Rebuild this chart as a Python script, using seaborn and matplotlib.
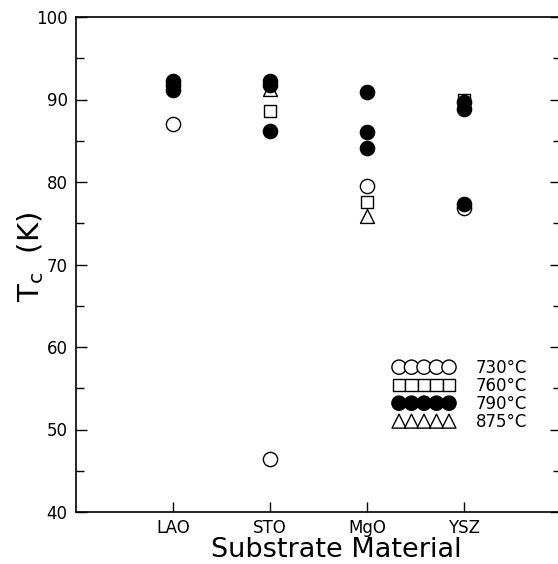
import numpy as np
import pandas as pd
import matplotlib
matplotlib.use("Agg")
import matplotlib.pyplot as plt
import seaborn as sns

# ---------------------------
# data
# ---------------------------
substrates = ["LAO", "STO", "MgO", "YSZ"]

# 730C - open circles
t730_sub = ["LAO", "STO", "MgO", "YSZ"]
t730_tc = [87.0, 46.4, 79.5, 76.8]

# 760C - open squares
t760_sub = ["LAO", "STO", "MgO", "YSZ"]
t760_tc = [91.8, 88.6, 77.6, 90.0]

# 790C - filled circles
t790_sub = ["LAO", "LAO", "LAO", "STO", "STO", "STO", "MgO", "MgO", "MgO", "YSZ", "YSZ", "YSZ"]
t790_tc = [92.2, 91.7, 91.1, 92.2, 91.7, 86.2, 90.9, 86.1, 84.1, 89.7, 88.8, 77.3]

# 875C - open triangles
t875_sub = ["STO", "MgO"]
t875_tc = [91.3, 75.9]

labels = ["730°C", "760°C", "790°C", "875°C"]

sns.set_style("ticks")
plt.rcParams['font.family'] = ['DejaVu Sans']
plt.rcParams['mathtext.default'] = 'regular'
for k in ['text.color', 'axes.labelcolor', 'xtick.color', 'ytick.color', 'axes.edgecolor']:
    plt.rcParams[k] = 'black'

fig = plt.figure(figsize=(5.58, 5.64), dpi=100)
ax = fig.add_axes([76 / 558, 52 / 564, 485 / 558, 495 / 564])

pos = {s: i + 1 for i, s in enumerate(substrates)}

def frame(subs, vals):
    return pd.DataFrame({"x": [pos[s] for s in subs], "Tc": vals})

# draw order: triangles, squares, open circles, filled circles on top
sns.scatterplot(data=frame(t875_sub, t875_tc), x="x", y="Tc", marker="^", s=100,
                facecolor="white", edgecolor="black", linewidth=1.0, label=labels[3], ax=ax, zorder=3)
sns.scatterplot(data=frame(t760_sub, t760_tc), x="x", y="Tc", marker="s", s=80,
                facecolor="white", edgecolor="black", linewidth=1.0, label=labels[1], ax=ax, zorder=4)
sns.scatterplot(data=frame(t730_sub, t730_tc), x="x", y="Tc", marker="o", s=105,
                facecolor="white", edgecolor="black", linewidth=1.0, label=labels[0], ax=ax, zorder=5)
sns.scatterplot(data=frame(t790_sub, t790_tc), x="x", y="Tc", marker="o", s=105,
                facecolor="black", edgecolor="black", linewidth=1.0, label=labels[2], ax=ax, zorder=6)

ax.set_xlim(0, 5)
ax.set_ylim(40, 100)
ax.set_xticks(range(1, len(substrates) + 1))
ax.set_xticklabels(substrates)
ax.set_yticks(np.arange(40, 101, 10))
ax.set_yticks(np.arange(45, 100, 10), minor=True)

ax.tick_params(axis="both", which="both", direction="in", labelsize=12, width=1.0)
ax.tick_params(axis="y", which="major", length=8, right=True, pad=6)
ax.tick_params(axis="y", which="minor", length=6, right=True)
ax.tick_params(axis="x", length=7, pad=5)

for sp in ax.spines.values():
    sp.set_linewidth(1.2)

ax.set_xlabel("Substrate Material", fontsize=19.5, labelpad=0)
ax.xaxis.set_label_coords((336 - 76) / 485, (512 - 557) / 495)
ax.xaxis.label.set_va("baseline")
ax.set_ylabel("$T_c$  (K)", fontsize=21)
ax.yaxis.set_label_coords((46 - 76) / 485, 0.515)

handles, labs = ax.get_legend_handles_labels()
order = [labs.index(l) for l in labels]
ax.legend([handles[i] for i in order], [labs[i] for i in order],
          loc="upper left", bbox_to_anchor=(394 / 558, 1 - 359 / 564),
          bbox_transform=fig.transFigure, frameon=False, scatterpoints=5,
          scatteryoffsets=[0.5], handlelength=3.6, handletextpad=1.3,
          labelspacing=0.0, borderpad=0, borderaxespad=0, fontsize=12)

fig.savefig("out.png", dpi=100)
